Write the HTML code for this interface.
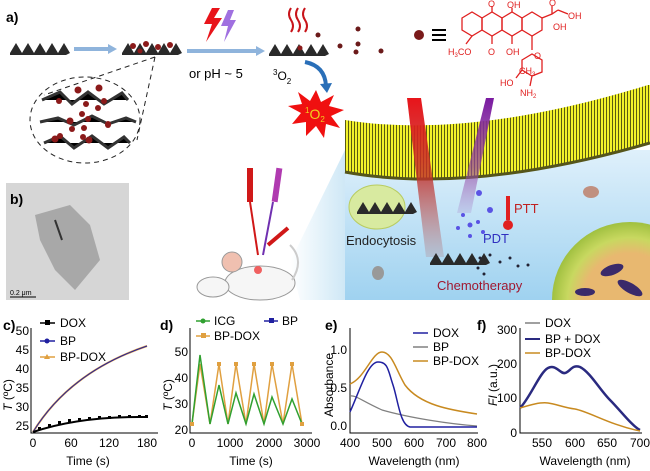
<!DOCTYPE html>
<html><head><meta charset="utf-8"><style>
html,body{margin:0;padding:0;background:#fff}
svg{display:block}
text{font-family:"Liberation Sans",Arial,sans-serif}
</style></head><body>
<svg width="650" height="471" viewBox="0 0 650 471" xmlns="http://www.w3.org/2000/svg">
<defs>
<linearGradient id="blue" x1="0" y1="0" x2="0" y2="1"><stop offset="0" stop-color="#dff0fb"/><stop offset="1" stop-color="#9fd2f0"/></linearGradient>
<linearGradient id="wedge" x1="0" y1="0" x2="1" y2="0"><stop offset="0" stop-color="#fff"/><stop offset="1" stop-color="#cfe8f6"/></linearGradient>
<pattern id="lip" width="3" height="10" patternUnits="userSpaceOnUse"><rect width="3" height="10" fill="#f2f22a"/><rect width="1" height="10" fill="#5a5a10"/></pattern>
<linearGradient id="rb" x1="0" y1="0" x2="0" y2="1"><stop offset="0" stop-color="#e8141a"/><stop offset="0.5" stop-color="#c0302a" stop-opacity="0.8"/><stop offset="1" stop-color="#b06060" stop-opacity="0.2"/></linearGradient>
<linearGradient id="pb" x1="0" y1="0" x2="0" y2="1"><stop offset="0" stop-color="#7a1aa0"/><stop offset="0.6" stop-color="#9040a0" stop-opacity="0.7"/><stop offset="1" stop-color="#a070c0" stop-opacity="0.2"/></linearGradient>
<radialGradient id="cell" cx="0.5" cy="0.5" r="0.5"><stop offset="0.6" stop-color="#e8b870"/><stop offset="0.8" stop-color="#c8d860"/><stop offset="1" stop-color="#a0c040"/></radialGradient>
<clipPath id="top"><rect x="345" y="0" width="305" height="300"/></clipPath>
<g id="sheet"><path d="M0,12 L6,2 L12,12 L18,2 L24,12 L30,2 L36,12 L42,2 L48,12 L54,2 L60,12 L56,14 L0,14Z" fill="#2a2a2a"/></g>
</defs>

<!-- panel a -->
<text x="6" y="22" font-size="14" font-weight="bold">a)</text>
<use href="#sheet" x="10" y="41"/>
<path d="M74,49 H110" stroke="#8fb4dc" stroke-width="4"/><path d="M108,44 L117,49 L108,54Z" fill="#8fb4dc"/>
<use href="#sheet" x="122" y="41"/>
<g fill="#8b1a1a"><circle cx="133" cy="46" r="3"/><circle cx="146" cy="44" r="3"/><circle cx="158" cy="47" r="3"/><circle cx="170" cy="45" r="3"/><circle cx="140" cy="51" r="2.5"/></g>
<path d="M155,57 L44,95 M155,57 L137,140" stroke="#222" stroke-dasharray="5,4" fill="none"/>
<ellipse cx="85" cy="120" rx="55" ry="43" fill="none" stroke="#222" stroke-dasharray="5,4"/>
<g stroke="#333" stroke-width="3">
<path d="M42,100 L60,92 L72,104 L88,92 L104,104 L122,93 L128,100"/>
<path d="M40,122 L58,118 L74,125 L92,116 L108,124 L126,118 L136,122"/>
<path d="M44,143 L60,136 L74,148 L92,136 L108,148 L124,137 L130,143"/>
</g>
<g fill="#8b1a1a"><circle cx="78" cy="90" r="3.5"/><circle cx="99" cy="88" r="3.5"/><circle cx="104" cy="101" r="3"/><circle cx="86" cy="104" r="3"/><circle cx="59" cy="101" r="3"/><circle cx="82" cy="114" r="3"/><circle cx="98" cy="108" r="3"/><circle cx="70" cy="121" r="3.5"/><circle cx="88" cy="119" r="3"/><circle cx="108" cy="124" r="3"/><circle cx="84" cy="128" r="3"/><circle cx="72" cy="129" r="3"/><circle cx="83" cy="137" r="3"/><circle cx="108" cy="125" r="3"/><circle cx="55" cy="139" r="3.5"/><circle cx="89" cy="140" r="3.5"/><circle cx="60" cy="136" r="3"/></g>

<path d="M212,8 L204,24 L212,24 L206,42 L222,18 L214,18 L220,8Z" fill="#e8141a"/>
<path d="M228,10 L221,26 L228,26 L224,42 L236,20 L230,20 L234,10Z" fill="#a070e0"/>
<path d="M187,51 H258" stroke="#8fb4dc" stroke-width="4"/><path d="M256,46 L265,51 L256,56Z" fill="#8fb4dc"/>
<text x="189" y="78" font-size="13">or pH ~ 5</text>
<g stroke="#c8141a" stroke-width="2" fill="none"><path d="M291,8 q-4,6 0,12 q4,6 0,12"/><path d="M298,8 q-4,6 0,12 q4,6 0,12"/><path d="M305,8 q-4,6 0,12 q4,6 0,12"/></g>
<use href="#sheet" x="269" y="42"/>
<circle cx="300" cy="48" r="2.5" fill="#8b1a1a"/>
<g fill="#6b1a1a"><circle cx="318" cy="35" r="2.5"/><circle cx="340" cy="46" r="2.5"/><circle cx="358" cy="29" r="2.5"/><circle cx="358" cy="44" r="2.5"/><circle cx="356" cy="52" r="2.5"/><circle cx="381" cy="51" r="2.5"/></g>
<text x="273" y="80" font-size="12"><tspan font-size="8" dy="-5">3</tspan><tspan dy="5">O</tspan><tspan font-size="8" dy="4">2</tspan></text>
<path d="M305,62 Q325,66 326,86" stroke="#2a6fb8" stroke-width="4" fill="none"/><path d="M320,84 L327,93 L332,83Z" fill="#2a6fb8"/>
<polygon points="316,90 321,102 334,95 329,106 344,110 331,116 340,128 326,124 324,138 316,126 306,136 306,122 292,124 301,113 288,106 302,104 298,92 310,101" fill="#f01010"/>
<text x="305" y="119" font-size="14" fill="#f0d020"><tspan font-size="8" dy="-6">1</tspan><tspan dy="6">O</tspan><tspan font-size="8" dy="3">2</tspan></text>

<!-- molecule -->
<circle cx="419" cy="35" r="5" fill="#7a1a1a"/>
<path d="M432,30 H446 M432,35 H446 M432,40 H446" stroke="#000" stroke-width="2"/>
<g stroke="#e02020" stroke-width="1.3" fill="none">
<polygon points="462,18 472,12 482,18 482,30 472,36 462,30"/>
<polygon points="482,18 492,12 502,18 502,30 492,36 482,30"/>
<polygon points="502,18 512,12 522,18 522,30 512,36 502,30"/>
<polygon points="522,18 532,12 542,18 542,30 532,36 522,30"/>
<path d="M492,12 V6 M512,12 V8 M492,36 V44 M512,36 V44 M472,36 L466,44 M542,18 L552,14 L558,10 M552,14 V6 M558,10 L568,14 M532,36 L532,50"/>
<path d="M522,60 L532,54 L542,60 L542,72 L532,76 L522,70Z M522,70 L516,78 M532,76 L530,86"/>
</g>
<g font-size="9" fill="#e02020">
<text x="488" y="7">O</text><text x="507" y="8">OH</text><text x="549" y="6">O</text><text x="568" y="19">OH</text><text x="553" y="30">OH</text>
<text x="448" y="55">H<tspan font-size="6" dy="2">3</tspan><tspan dy="-2">CO</tspan></text><text x="488" y="55">O</text><text x="506" y="55">OH</text><text x="534" y="59">O</text>
<text x="519" y="74">CH<tspan font-size="6" dy="2">3</tspan></text><text x="500" y="86">HO</text><text x="520" y="96">NH<tspan font-size="6" dy="2">2</tspan></text>
</g>

<!-- cell scene -->
<polygon points="290,262 345,150 345,300 300,300" fill="url(#wedge)"/>
<rect x="345" y="150" width="305" height="150" fill="url(#blue)"/>
<path d="M345,120 Q470,140 648,85 L650,85 L650,143 Q470,195 345,172Z" fill="url(#lip)"/>
<path d="M345,172 Q470,195 650,143" stroke="#55551a" stroke-width="3" fill="none"/>
<polygon points="407,98 421,98 444,257 426,257" fill="url(#rb)"/>
<polygon points="486,98 494,98 471,213 457,213" fill="url(#pb)"/>
<ellipse cx="377" cy="207" rx="28" ry="22" fill="#d8eaa0" stroke="#b8cc60"/>
<use href="#sheet" x="357" y="200"/>
<text x="346" y="245" font-size="13" fill="#222">Endocytosis</text>
<rect x="506" y="196" width="4" height="24" fill="#e02020"/><circle cx="508" cy="225" r="5" fill="#e02020"/>
<text x="514" y="213" font-size="13" fill="#c02020">PTT</text>
<text x="483" y="243" font-size="13" fill="#3030c0">PDT</text>
<g fill="#4030e0" opacity="0.8"><circle cx="479" cy="193" r="3"/><circle cx="490" cy="210" r="3"/><circle cx="463" cy="215" r="2"/><circle cx="470" cy="225" r="2.5"/><circle cx="478" cy="222" r="2"/><circle cx="483" cy="232" r="2"/><circle cx="458" cy="228" r="2"/><circle cx="470" cy="236" r="2"/></g>
<use href="#sheet" x="430" y="251"/>
<g fill="#223"><circle cx="480" cy="258" r="1.5"/><circle cx="490" cy="255" r="1.5"/><circle cx="500" cy="262" r="1.5"/><circle cx="510" cy="258" r="1.5"/><circle cx="518" cy="266" r="1.5"/><circle cx="478" cy="268" r="1.5"/><circle cx="484" cy="274" r="1.5"/><circle cx="528" cy="265" r="1.5"/></g>
<text x="437" y="290" font-size="13" fill="#a01830">Chemotherapy</text>
<g clip-path="url(#top)">
<circle cx="630" cy="300" r="78" fill="url(#cell)"/>
<g fill="#3a2a6a"><ellipse cx="612" cy="270" rx="12" ry="5" transform="rotate(-20 612 270)"/><ellipse cx="630" cy="288" rx="14" ry="5" transform="rotate(30 630 288)"/><ellipse cx="585" cy="292" rx="10" ry="4"/></g>
</g>
<ellipse cx="378" cy="273" rx="6" ry="7" fill="#999"/>
<ellipse cx="591" cy="192" rx="8" ry="6" fill="#c09080"/>

<!-- mouse -->
<rect x="247" y="168" width="6" height="34" fill="#d01818"/>
<rect x="274" y="168" width="6" height="34" fill="#b03ab0" transform="rotate(8 277 185)"/>
<path d="M250,202 L258,255" stroke="#d01818" stroke-width="2"/>
<path d="M273,202 L263,255" stroke="#7030b0" stroke-width="2"/>
<path d="M268,245 L288,228" stroke="#d01818" stroke-width="4"/>
<ellipse cx="260" cy="283" rx="35" ry="17" fill="#f6f6f6" stroke="#999"/>
<ellipse cx="213" cy="287" rx="16" ry="10" fill="#f6f6f6" stroke="#999"/>
<circle cx="232" cy="262" r="10" fill="#f0c0b0" stroke="#999"/>
<circle cx="258" cy="270" r="4" fill="#f06060"/>
<path d="M292,280 Q305,260 290,245" stroke="#ccc" stroke-width="2" fill="none"/>

<!-- panel b -->
<rect x="6" y="183" width="123" height="117" fill="#d6d6d6"/>
<path d="M35,215 L70,205 L90,225 L100,260 L75,290 L55,270 L40,240Z" fill="#a8a8a8"/>
<path d="M55,220 L62,240" stroke="#333" stroke-width="2"/>
<text x="10" y="204" font-size="14" font-weight="bold">b)</text>
<text x="10" y="295" font-size="7">0.2 μm</text>
<path d="M10,297 H36" stroke="#000"/>

<!-- panel c -->
<g font-size="12">
<text x="3" y="330" font-size="14" font-weight="bold">c)</text>
<path d="M31,328 V433 H158" stroke="#000" fill="none"/>
<g text-anchor="end"><text x="29" y="335">50</text><text x="29" y="354">45</text><text x="29" y="373">40</text><text x="29" y="392">35</text><text x="29" y="411">30</text><text x="29" y="430">25</text></g>
<g text-anchor="middle"><text x="33" y="447">0</text><text x="71" y="447">60</text><text x="109" y="447">120</text><text x="147" y="447">180</text><text x="88" y="465">Time (s)</text></g>
<text transform="translate(12,395) rotate(-90)" text-anchor="middle"><tspan font-style="italic">T</tspan> (ºC)</text>
<path d="M33,432 Q70,372 147,346" stroke="#e0a040" stroke-width="2" fill="none"/>
<path d="M33,432 Q70,372 147,346" stroke="#2020a0" stroke-width="1" fill="none"/>
<path d="M33,432 Q80,416 147,417" stroke="#000" stroke-width="2" fill="none"/>
<g fill="#000"><rect x="38" y="427" width="3" height="3"/><rect x="48" y="424" width="3" height="3"/><rect x="58" y="421" width="3" height="3"/><rect x="68" y="419" width="3" height="3"/><rect x="78" y="418" width="3" height="3"/><rect x="88" y="417" width="3" height="3"/><rect x="98" y="416" width="3" height="3"/><rect x="108" y="416" width="3" height="3"/><rect x="118" y="415" width="3" height="3"/><rect x="128" y="415" width="3" height="3"/><rect x="138" y="415" width="3" height="3"/><rect x="145" y="415" width="3" height="3"/></g>
<path d="M40,323 H55" stroke="#000" stroke-width="1.5"/><rect x="45" y="320" width="5" height="5"/><text x="60" y="327">DOX</text>
<path d="M40,341 H55" stroke="#2020a0" stroke-width="1.5"/><circle cx="47" cy="341" r="2.5" fill="#2020a0"/><text x="60" y="345">BP</text>
<path d="M40,357 H55" stroke="#e0a040" stroke-width="1.5"/><path d="M47,354 L50,359 L44,359Z" fill="#e0a040"/><text x="60" y="361">BP-DOX</text>
</g>

<!-- panel d -->
<g font-size="12">
<text x="160" y="330" font-size="14" font-weight="bold">d)</text>
<path d="M190,328 V433 H312" stroke="#000" fill="none"/>
<g text-anchor="end"><text x="188" y="356">50</text><text x="188" y="382">40</text><text x="188" y="408">30</text><text x="188" y="434">20</text></g>
<g text-anchor="middle"><text x="192" y="447">0</text><text x="230" y="447">1000</text><text x="269" y="447">2000</text><text x="307" y="447">3000</text><text x="251" y="465">Time (s)</text></g>
<text transform="translate(172,395) rotate(-90)" text-anchor="middle"><tspan font-style="italic">T</tspan> (ºC)</text>
<polyline points="192,424 200,364 210,424 219,364 228,424 236,364 246,424 254,364 264,424 272,364 283,424 292,364 302,424" stroke="#e0a040" stroke-width="1.5" fill="none"/>
<polyline points="192,424 200,355 210,424 219,385 228,424 236,393 246,424 254,394 264,424 272,397 283,424 292,399 302,424" stroke="#30a030" stroke-width="1.5" fill="none"/>
<g fill="#e0a040"><rect x="190" y="422" width="4" height="4"/><rect x="217" y="362" width="4" height="4"/><rect x="234" y="362" width="4" height="4"/><rect x="252" y="362" width="4" height="4"/><rect x="270" y="362" width="4" height="4"/><rect x="290" y="362" width="4" height="4"/><rect x="300" y="422" width="4" height="4"/></g>
<path d="M196,321 H210" stroke="#30a030" stroke-width="1.5"/><circle cx="203" cy="321" r="2.5" fill="#30a030"/><text x="214" y="325">ICG</text>
<path d="M264,321 H278" stroke="#2020a0" stroke-width="1.5"/><rect x="269" y="318" width="5" height="5" fill="#2020a0"/><text x="282" y="325">BP</text>
<path d="M196,336 H210" stroke="#e0a040" stroke-width="1.5"/><rect x="201" y="333" width="5" height="5" fill="#e0a040"/><text x="214" y="340">BP-DOX</text>
</g>

<!-- panel e -->
<g font-size="12">
<text x="325" y="330" font-size="14" font-weight="bold">e)</text>
<path d="M350,328 V433 H478" stroke="#000" fill="none"/>
<g text-anchor="end"><text x="347" y="354">1.0</text><text x="347" y="392">0.5</text><text x="347" y="430">0.0</text></g>
<g text-anchor="middle"><text x="350" y="447">400</text><text x="382" y="447">500</text><text x="414" y="447">600</text><text x="446" y="447">700</text><text x="477" y="447">800</text><text x="414" y="465">Wavelength (nm)</text></g>
<text transform="translate(333,385) rotate(-90)" text-anchor="middle">Absorbance</text>
<path d="M350,384 C365,378 372,352 382,352 C392,352 396,370 405,385 C420,405 450,410 477,414" stroke="#c88a20" stroke-width="1.5" fill="none"/>
<path d="M350,396 C356,395 360,400 382,410 C410,418 450,424 477,426" stroke="#808080" stroke-width="1.2" fill="none"/>
<path d="M350,412 C360,390 368,362 378,362 C388,362 388,370 393,385 C398,400 400,425 410,427 H477" stroke="#2020a0" stroke-width="1.5" fill="none"/>
<path d="M413,333 H428" stroke="#2020a0" stroke-width="1.5"/><text x="433" y="337">DOX</text>
<path d="M413,347 H428" stroke="#808080" stroke-width="1.5"/><text x="433" y="351">BP</text>
<path d="M413,361 H428" stroke="#c88a20" stroke-width="1.5"/><text x="433" y="365">BP-DOX</text>
</g>

<!-- panel f -->
<g font-size="12">
<text x="477" y="330" font-size="14" font-weight="bold">f)</text>
<path d="M520,328 V433 H642" stroke="#000" fill="none"/>
<g text-anchor="end"><text x="517" y="334">300</text><text x="517" y="368">200</text><text x="517" y="402">100</text><text x="517" y="437">0</text></g>
<g text-anchor="middle"><text x="542" y="447">550</text><text x="575" y="447">600</text><text x="607" y="447">650</text><text x="640" y="447">700</text><text x="585" y="465">Wavelength (nm)</text></g>
<text transform="translate(497,385) rotate(-90)" text-anchor="middle"><tspan font-style="italic">FI</tspan> (a.u.)</text>
<path d="M520,408 C530,398 540,372 548,368 C556,364 560,374 565,373 C570,372 572,364 580,367 C590,372 600,390 610,400 C620,410 632,426 640,430" stroke="#2a2a80" stroke-width="2.5" fill="none"/>
<path d="M520,408 C530,405 540,402 548,403 C556,404 565,408 575,409 C590,412 610,425 640,431" stroke="#c88a20" stroke-width="1.5" fill="none"/>
<path d="M525,323 H540" stroke="#808080" stroke-width="1.5"/><text x="545" y="327">DOX</text>
<path d="M525,339 H540" stroke="#2a2a80" stroke-width="2"/><text x="545" y="343">BP + DOX</text>
<path d="M525,353 H540" stroke="#c88a20" stroke-width="1.5"/><text x="545" y="357">BP-DOX</text>
</g>
</svg>
</body></html>
